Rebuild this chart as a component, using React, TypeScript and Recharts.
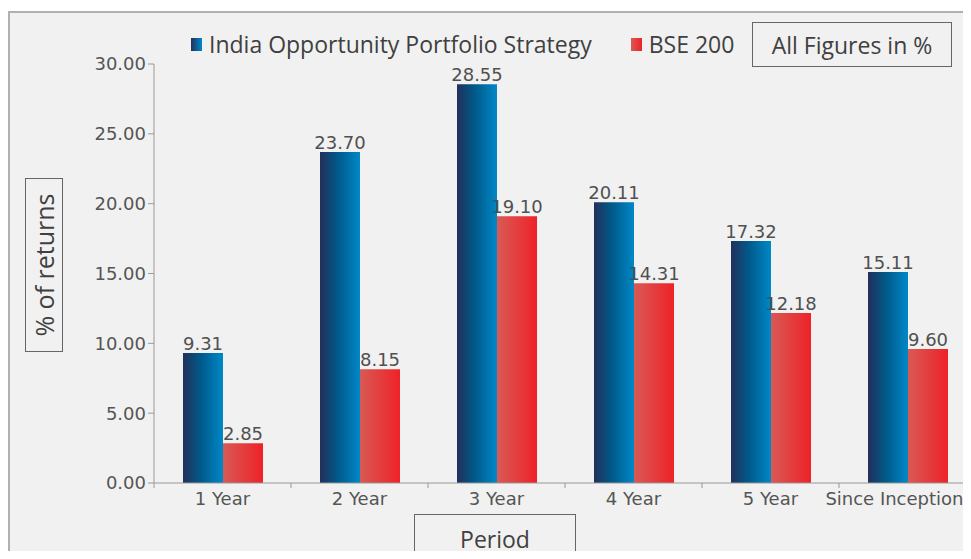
import { Bar, BarChart, LabelList, XAxis, YAxis } from 'recharts'

const periods = ['1 Year', '2 Year', '3 Year', '4 Year', '5 Year', 'Since Inception']
const strategyReturns = [9.31, 23.7, 28.55, 20.11, 17.32, 15.11]
const benchmarkReturns = [2.85, 8.15, 19.1, 14.31, 12.18, 9.6]
const yTicks = [0, 5, 10, 15, 20, 25, 30]

const STRATEGY = 'India Opportunity Portfolio Strategy'
const BENCHMARK = 'BSE 200'

const CHART_W = 990
const CHART_H = 559
const PLOT_LEFT = 154
const PLOT_RIGHT_MARGIN = 14
const BAND = (CHART_W - PLOT_LEFT - PLOT_RIGHT_MARGIN) / periods.length

const tickFont = { fontFamily: 'DejaVu Sans, sans-serif', fontSize: 18, fill: '#555' }
const valueFont = { fontFamily: 'DejaVu Sans, sans-serif', fontSize: 18, fill: '#505050' }
const narrow = '"Liberation Sans Narrow", "Open Sans", sans-serif'

const chartData = periods.map((p, i) => ({
  period: p,
  strategy: strategyReturns[i],
  benchmark: benchmarkReturns[i],
}))

function PeriodTick(props: any) {
  const { x, y, payload } = props
  const last = payload.index === periods.length - 1
  return (
    <g>
      <line x1={x - BAND / 2} x2={x - BAND / 2} y1={y - 8} y2={y - 3} stroke="#999" />
      {/* last label is pulled inside the frame, as in the source */}
      <text x={last ? x + 56 : x} y={y + 14} textAnchor={last ? 'end' : 'middle'} {...tickFont}>
        {payload.value}
      </text>
    </g>
  )
}

function LegendItem({ label, grad, gap }: { label: string; grad: string; gap: number }) {
  return (
    <span style={{ display: 'inline-flex', alignItems: 'center', marginRight: gap }}>
      <span style={{ width: 11, height: 13, background: grad, marginRight: 7, display: 'inline-block' }} />
      <span style={{ fontFamily: narrow, fontSize: 23, color: '#404040' }}>{label}</span>
    </span>
  )
}

export default function App() {
  return (
    <div style={{ position: 'relative', width: 971, height: 559, margin: -8, overflow: 'hidden', background: '#fff' }}>
      <div
        style={{
          position: 'absolute',
          left: 8,
          top: 11,
          width: 990,
          height: 600,
          background: '#f1f1f1',
          border: '2px solid #b0b0b0',
        }}
      />
      <div style={{ position: 'absolute', left: 0, top: 0 }}>
        <BarChart
          width={CHART_W}
          height={CHART_H}
          data={chartData}
          margin={{ top: 64, right: PLOT_RIGHT_MARGIN, left: 0, bottom: 46 }}
          barGap={0}
        >
          <defs>
            <linearGradient id="gradBlue" x1="0" y1="0" x2="1" y2="0">
              <stop offset="0%" stopColor="#22305a" />
              <stop offset="45%" stopColor="#005a8a" />
              <stop offset="100%" stopColor="#0088c8" />
            </linearGradient>
            <linearGradient id="gradRed" x1="0" y1="0" x2="1" y2="0">
              <stop offset="0%" stopColor="#d85a55" />
              <stop offset="100%" stopColor="#ee2228" />
            </linearGradient>
          </defs>
          <XAxis
            dataKey="period"
            height={30}
            axisLine={{ stroke: '#999' }}
            tickLine={false}
            tick={<PeriodTick />}
            interval={0}
          />
          <YAxis
            width={PLOT_LEFT}
            domain={[0, 30]}
            ticks={yTicks}
            tickFormatter={(v: number) => v.toFixed(2)}
            axisLine={{ stroke: '#999' }}
            tickLine={{ stroke: '#999' }}
            tickSize={6}
            tick={tickFont}
          />
          <Bar dataKey="strategy" name={STRATEGY} fill="url(#gradBlue)" barSize={40} isAnimationActive={false}>
            <LabelList
              dataKey="strategy"
              position="top"
              offset={3}
              formatter={(v: number) => v.toFixed(2)}
              style={valueFont}
            />
          </Bar>
          <Bar dataKey="benchmark" name={BENCHMARK} fill="url(#gradRed)" barSize={40} isAnimationActive={false}>
            <LabelList
              dataKey="benchmark"
              position="top"
              offset={3}
              formatter={(v: number) => v.toFixed(2)}
              style={valueFont}
            />
          </Bar>
        </BarChart>
      </div>
      <div style={{ position: 'absolute', left: 191, top: 28, display: 'flex', alignItems: 'center' }}>
        <LegendItem label={STRATEGY} grad="linear-gradient(to right, #22305a, #0088cc)" gap={39} />
        <LegendItem label={BENCHMARK} grad="linear-gradient(to right, #d85a55, #ee2228)" gap={0} />
      </div>
      <div
        style={{
          position: 'absolute',
          left: 752,
          top: 22,
          width: 198,
          height: 43,
          border: '1px solid #666',
          display: 'flex',
          alignItems: 'center',
          justifyContent: 'center',
          fontFamily: narrow,
          fontSize: 23,
          color: '#404040',
        }}
      >
        All Figures in %
      </div>
      <div
        style={{
          position: 'absolute',
          left: 25,
          top: 178,
          width: 36,
          height: 172,
          border: '1px solid #666',
          display: 'flex',
          alignItems: 'center',
          justifyContent: 'center',
        }}
      >
        <span
          style={{
            transform: 'rotate(-90deg)',
            whiteSpace: 'nowrap',
            fontFamily: narrow,
            fontSize: 25,
            color: '#404040',
          }}
        >
          % of returns
        </span>
      </div>
      <div
        style={{
          position: 'absolute',
          left: 414,
          top: 514,
          width: 162,
          height: 50,
          border: '1px solid #666',
          display: 'flex',
          justifyContent: 'center',
          paddingTop: 8,
          boxSizing: 'border-box',
          fontFamily: narrow,
          fontSize: 23,
          color: '#404040',
        }}
      >
        Period
      </div>
    </div>
  )
}
